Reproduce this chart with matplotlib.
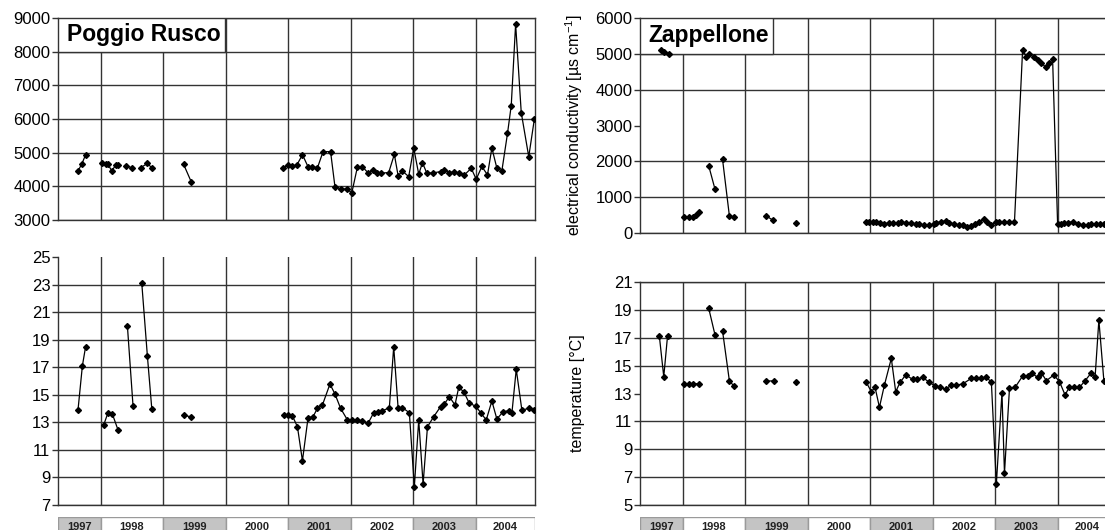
import numpy as np
import matplotlib
matplotlib.use('Agg')
import matplotlib.pyplot as plt
from matplotlib.patches import Rectangle

plt.rcParams['font.family'] = ['Liberation Sans', 'DejaVu Sans']
plt.rcParams['mathtext.fontset'] = 'custom'
plt.rcParams['mathtext.rm'] = 'Liberation Sans'

nan = np.nan

# x axis runs from spring 1997 to end of 2004 (decimal years)
XMIN, XMAX = 1997.32, 2004.95
years = [1997, 1998, 1999, 2000, 2001, 2002, 2003, 2004]

# Poggio Rusco - electrical conductivity
pr_ec_year = [1997.64, 1997.70, 1997.76, nan,
              1998.03, 1998.08, 1998.12, 1998.18, 1998.24, 1998.28, nan,
              1998.40, 1998.51, nan,
              1998.64, 1998.75, 1998.82, nan,
              1999.33, 1999.45, nan,
              2000.92, 2001.00, 2001.07, 2001.14, 2001.23, 2001.32, 2001.39, 2001.47,
              2001.56, 2001.68, 2001.75, 2001.85, 2001.94, 2002.02, 2002.11, 2002.19,
              2002.28, 2002.36, 2002.43, 2002.48, 2002.61, 2002.70, 2002.76, 2002.83,
              2002.93, 2003.01, 2003.09, 2003.15, 2003.22, 2003.32, 2003.45, 2003.49,
              2003.58, 2003.66, 2003.74, 2003.82, 2003.93, 2004.01, 2004.10, 2004.19,
              2004.26, 2004.34, 2004.42, 2004.51, 2004.57, 2004.64, 2004.73, 2004.85,
              2004.94]
pr_ec = [4460, 4660, 4930, nan,
         4680, 4660, 4650, 4460, 4620, 4640, nan,
         4610, 4550, nan,
         4550, 4680, 4550, nan,
         4650, 4140, nan,
         4550, 4630, 4610, 4630, 4940, 4580, 4580, 4550,
         5030, 5030, 3990, 3920, 3920, 3810, 4580, 4580,
         4400, 4490, 4410, 4390, 4410, 4950, 4320, 4450,
         4290, 5140, 4360, 4700, 4390, 4400, 4440, 4490,
         4410, 4430, 4390, 4340, 4535, 4210, 4590, 4340,
         5140, 4540, 4460, 5570, 6400, 8820, 6190, 4880,
         6000]

# Poggio Rusco - temperature
pr_t_year = [1997.64, 1997.71, 1997.76, nan,
             1998.05, 1998.12, 1998.19, 1998.28, nan,
             1998.43, 1998.52, nan,
             1998.66, 1998.75, 1998.82, nan,
             1999.34, 1999.45, nan,
             2000.94, 2001.00, 2001.07, 2001.15, 2001.23, 2001.32, 2001.40, 2001.47,
             2001.55, 2001.67, 2001.75, 2001.84, 2001.95, 2002.03, 2002.11, 2002.19,
             2002.28, 2002.37, 2002.44, 2002.51, 2002.62, 2002.69, 2002.76, 2002.83,
             2002.94, 2003.02, 2003.09, 2003.16, 2003.23, 2003.33, 2003.44, 2003.50,
             2003.58, 2003.67, 2003.73, 2003.81, 2003.90, 2004.00, 2004.09, 2004.17,
             2004.26, 2004.34, 2004.44, 2004.53, 2004.58, 2004.65, 2004.74, 2004.86,
             2004.94]
pr_t = [13.9, 17.1, 18.45, nan,
        12.8, 13.7, 13.6, 12.45, nan,
        20.0, 14.2, nan,
        23.1, 17.8, 14.0, nan,
        13.5, 13.4, nan,
        13.53, 13.53, 13.46, 12.68, 10.21, 13.34, 13.41, 14.02,
        14.26, 15.78, 15.06, 14.02, 13.17, 13.17, 13.17, 13.10,
        12.93, 13.70, 13.77, 13.84, 14.06, 18.49, 14.06, 14.06,
        13.70, 8.33, 13.17, 8.52, 12.68, 13.41, 14.14, 14.33,
        14.86, 14.26, 15.54, 15.22, 14.38, 14.18, 13.65, 13.17,
        14.55, 13.24, 13.77, 13.84, 13.65, 16.85, 13.89, 14.02,
        13.89]

# Zappellone - electrical conductivity
za_ec_year = [1997.65, 1997.71, 1997.78, nan,
              1998.03, 1998.10, 1998.16, 1998.22, 1998.27, nan,
              1998.42, 1998.52, nan,
              1998.64, 1998.75, 1998.83, nan,
              1999.34, 1999.44, nan,
              1999.81, nan,
              2000.93, 2000.98, 2001.04, 2001.10, 2001.16, 2001.23, 2001.30, 2001.36,
              2001.44, 2001.50, 2001.57, 2001.66, 2001.73, 2001.79, 2001.86, 2001.94,
              2002.02, 2002.06, 2002.14, 2002.21, 2002.27, 2002.35, 2002.42, 2002.48,
              2002.55, 2002.62, 2002.68, 2002.75, 2002.82, 2002.87, 2002.94, 2003.01,
              2003.07, 2003.15, 2003.22, 2003.31, 2003.44, 2003.50, 2003.55, 2003.62,
              2003.68, 2003.74, 2003.81, 2003.87, 2003.92, 2004.00, 2004.05, 2004.11,
              2004.16, 2004.24, 2004.32, 2004.40, 2004.48, 2004.54, 2004.62, 2004.68,
              2004.74]
za_ec = [5110, 5040, 5000, nan,
         455, 455, 455, 500, 595, nan,
         1870, 1220, nan,
         2060, 475, 440, nan,
         475, 365, nan,
         290, nan,
         316, 316, 316, 316, 288, 251, 288, 288,
         288, 316, 288, 288, 251, 251, 223, 223,
         251, 288, 316, 344, 288, 251, 223, 223,
         177, 195, 251, 316, 382, 316, 223, 316,
         316, 316, 316, 316, 5110, 4925, 5000, 4905,
         4815, 4740, 4630, 4740, 4850, 251, 251, 288,
         288, 316, 251, 223, 223, 251, 251, 251,
         251]

# Zappellone - temperature
za_t_year = [1997.63, 1997.70, 1997.76, nan,
             1998.03, 1998.10, 1998.16, 1998.27, nan,
             1998.42, 1998.52, nan,
             1998.64, 1998.75, 1998.82, nan,
             1999.33, 1999.46, nan,
             1999.81, nan,
             2000.94, 2001.02, 2001.08, 2001.15, 2001.23, 2001.34, 2001.41, 2001.48,
             2001.57, 2001.68, 2001.75, 2001.84, 2001.95, 2002.04, 2002.12, 2002.21,
             2002.30, 2002.38, 2002.48, 2002.62, 2002.70, 2002.78, 2002.85, 2002.94,
             2003.02, 2003.11, 2003.15, 2003.23, 2003.32, 2003.44, 2003.52, 2003.59,
             2003.68, 2003.74, 2003.82, 2003.94, 2004.03, 2004.12, 2004.19, 2004.27,
             2004.35, 2004.44, 2004.54, 2004.60, 2004.66, 2004.74]
za_t = [17.1, 14.2, 17.1, nan,
        13.7, 13.7, 13.7, 13.7, nan,
        19.1, 17.2, nan,
        17.5, 13.9, 13.55, nan,
        13.9, 13.9, nan,
        13.8, nan,
        13.80, 13.13, 13.44, 12.01, 13.61, 15.52, 13.13, 13.80,
        14.33, 14.02, 14.02, 14.16, 13.80, 13.54, 13.44, 13.30,
        13.61, 13.61, 13.68, 14.09, 14.09, 14.09, 14.16, 13.85,
        6.51, 13.06, 7.27, 13.37, 13.44, 14.25, 14.25, 14.45,
        14.16, 14.49, 13.92, 14.33, 13.85, 12.89, 13.49, 13.49,
        13.44, 13.92, 14.49, 14.20, 18.27, 13.92]

ec_ticks_pr = [3000, 4000, 5000, 6000, 7000, 8000, 9000]
ec_ticks_za = [0, 1000, 2000, 3000, 4000, 5000, 6000]
t_ticks_pr = [7, 9, 11, 13, 15, 17, 19, 21, 23, 25]
t_ticks_za = [5, 7, 9, 11, 13, 15, 17, 19, 21]

GRID = '#333333'


def setup(ax, yticks, hide=()):
    ax.set_xlim(XMIN, XMAX)
    ax.set_ylim(yticks[0], yticks[-1])
    ax.set_yticks(yticks)
    ax.set_xticks(years[1:])
    ax.tick_params(axis='x', length=0, labelbottom=False)
    ax.tick_params(axis='y', length=4, width=1, color=GRID, pad=1.5, labelsize=12)
    ax.grid(True, color=GRID, lw=1)
    for s in ax.spines.values():
        s.set_color(GRID)
        s.set_linewidth(1)
    lines = ax.get_ygridlines()
    for i in hide:
        lines[i].set_visible(False)


def series(ax, x, y):
    ax.plot(np.array(x, float), np.array(y, float), color='black', lw=0.9,
            marker='D', ms=3, zorder=3)


def title_box(ax, text, width):
    ax.add_patch(Rectangle((0, 5 / 6), width, 1 / 6, transform=ax.transAxes,
                           fc='white', ec=GRID, lw=1, zorder=2.6))
    ax.text(width / 2 + 0.004, 11 / 12, text, transform=ax.transAxes, ha='center',
            va='center', fontsize=16.5, fontweight='bold', zorder=4)


def year_strip(fig, left, width):
    ay = fig.add_axes([left, -0.002, width, 14 / 530])
    ay.set_xlim(XMIN, XMAX)
    ay.set_ylim(0, 1)
    ay.axis('off')
    for i, yr in enumerate(years):
        x0, x1 = max(yr, XMIN), min(yr + 1, XMAX)
        fc = '#c4c4c4' if i % 2 == 0 else 'white'
        ay.add_patch(Rectangle((x0, 0), x1 - x0, 1, fc=fc, ec='#9a9a9a', lw=1))
        ay.text((x0 + x1) / 2, 0.32, str(yr), ha='center', va='center',
                fontsize=8, fontweight='bold', color='#222222')


fig = plt.figure(figsize=(11.05, 5.30), dpi=100)

L1, L2, W = 58 / 1105, 640 / 1105, 477 / 1105

ax1 = fig.add_axes([L1, 310 / 530, W, 202 / 530])
setup(ax1, ec_ticks_pr)
series(ax1, pr_ec_year, pr_ec)
title_box(ax1, 'Poggio Rusco', 167 / 477)

ax2 = fig.add_axes([L1, 25 / 530, W, 248 / 530])
setup(ax2, t_ticks_pr, hide=[9])
ax2.spines['top'].set_visible(False)
series(ax2, pr_t_year, pr_t)

ax3 = fig.add_axes([L2, 297 / 530, W, 215 / 530])
setup(ax3, ec_ticks_za, hide=[3])
series(ax3, za_ec_year, za_ec)
title_box(ax3, 'Zappellone', 133 / 477)
ax3.set_ylabel('electrical conductivity [µs cm$^{-1}$]', fontsize=11.5)
ax3.yaxis.set_label_coords(-0.115, 0.5)

ax4 = fig.add_axes([L2, 25 / 530, W, 223 / 530])
setup(ax4, t_ticks_za, hide=[4])
series(ax4, za_t_year, za_t)
ax4.set_ylabel('temperature [°C]', fontsize=11.5)
ax4.yaxis.set_label_coords(-0.115, 0.5)

year_strip(fig, L1, W)
year_strip(fig, L2, W)

fig.savefig('out.png', dpi=100)
